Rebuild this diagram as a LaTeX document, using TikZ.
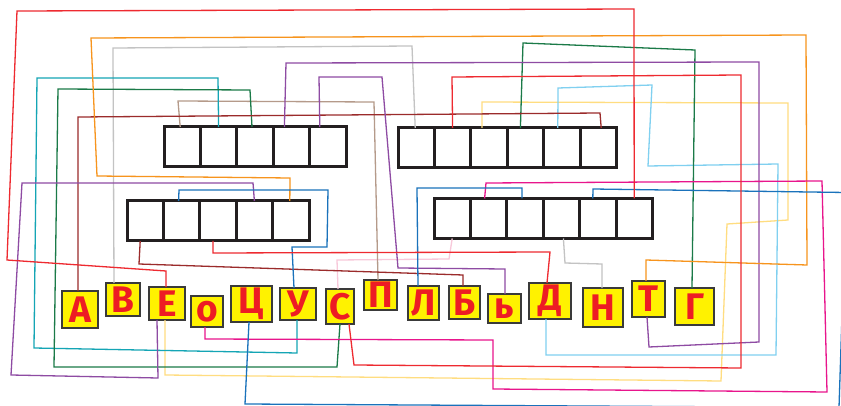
\documentclass[tikz,border=0pt]{standalone}
\usepackage{fontspec}
\newfontfamily\tilefont{Fira Sans}
\definecolor{cred}{HTML}{EE2A30}
\definecolor{corange}{HTML}{F7941D}
\definecolor{cgray}{HTML}{C3C3C3}
\definecolor{cteal}{HTML}{14A5B5}
\definecolor{cgreen}{HTML}{1B7A48}
\definecolor{cmaroon}{HTML}{9B2B2B}
\definecolor{ctan}{HTML}{B59A8A}
\definecolor{cpurple}{HTML}{8E4BA3}
\definecolor{clblue}{HTML}{80D0F0}
\definecolor{cpyellow}{HTML}{FFDD80}
\definecolor{cmagenta}{HTML}{E8158C}
\definecolor{cblue}{HTML}{1A72BB}
\definecolor{cpink}{HTML}{F8C8DA}
\definecolor{tileyellow}{HTML}{FFF200}
\definecolor{tileborder}{HTML}{3A3A3A}
\definecolor{letterred}{HTML}{ED1C24}
\definecolor{gridc}{HTML}{231F20}
\tikzset{
  conn/.style={line width=1.3pt, line join=miter},
  cellbox/.style={draw=gridc, line width=3pt, minimum width=36.4pt, minimum height=40pt, inner sep=0pt, outer sep=0pt},
  tile/.style={draw=tileborder, line width=2pt, fill=tileyellow, inner sep=0pt, outer sep=0pt, text=letterred, font=\tilefont\bfseries\fontsize{37}{37}\selectfont},
}
\begin{document}
\begin{tikzpicture}[x=1pt,y=-1pt]
\useasboundingbox (0,0) rectangle (841,406);
\fill[white] (0,0) rectangle (841,406);
\clip (0,0) rectangle (841,406);
% grids
\foreach \i/\x in {1/182.2,2/218.6,3/255.0,4/291.4,5/327.8} {\node[cellbox] (g1c\i) at (\x,147) {};}
\foreach \i/\x in {1/416.2,2/452.6,3/489.0,4/525.4,5/561.8,6/598.2} {\node[cellbox] (g2c\i) at (\x,148) {};}
\foreach \i/\x in {1/145.2,2/181.6,3/218.0,4/254.4,5/290.8} {\node[cellbox] (g3c\i) at (\x,221) {};}
\foreach \i/\x in {1/452.2,2/488.6,3/525.0,4/561.4,5/597.8,6/634.2} {\node[cellbox] (g4c\i) at (\x,218.5) {};}
% tiles
\node[tile, minimum width=36pt, minimum height=37pt] (tA) at (80,309.5) {А};
\node[tile, minimum width=34pt, minimum height=33pt] (tB) at (123,299.5) {В};
\node[tile, minimum width=36pt, minimum height=33pt] (tE) at (167,303.5) {Е};
\node[tile, minimum width=32pt, minimum height=31pt] (tO) at (207,311.5) {о};
\node[tile, minimum width=41pt, minimum height=36pt] (tTs) at (251.5,304) {Ц};
\node[tile, minimum width=36pt, minimum height=32pt] (tU) at (298,304) {У};
\node[tile, minimum width=28pt, minimum height=35pt] (tS) at (340,306.5) {С};
\node[tile, minimum width=33pt, minimum height=30pt] (tP) at (380.5,295) {П};
\node[tile, minimum width=31pt, minimum height=34pt] (tL) at (423.5,303) {Л};
\node[tile, minimum width=31pt, minimum height=33pt] (tBe) at (464.5,302.5) {Б};
\node[tile, minimum width=33pt, minimum height=29pt] (tSoft) at (504.5,308.5) {ь};
\node[tile, minimum width=42pt, minimum height=36pt] (tD) at (550,301) {Д};
\node[tile, minimum width=40pt, minimum height=39pt] (tN) at (603,307.5) {Н};
\node[tile, minimum width=33pt, minimum height=36pt] (tT) at (648.5,299) {Т};
\node[tile, minimum width=39pt, minimum height=37pt] (tG) at (694.5,306.5) {Г};
% connectors
\draw[conn,cpink] (g4c1.south) -- (449,259) -- (337,260) -- ([xshift=-2pt]tS.north);
\draw[conn,cgray] ([xshift=2pt]g4c4.south) -- (565,263) -- (602,264) -- ([xshift=-1pt]tN.north);
\draw[conn,cgray] ([xshift=-9pt]tB.north) -- (113,48) -- (412,46) -- ([xshift=-1pt]g2c1.north);
\draw[conn,ctan] ([xshift=-2pt]g1c1.north) -- (178,101) -- (374,102) -- ([xshift=-2.5pt]tP.north);
\draw[conn,cpyellow] ([xshift=-7pt]g2c3.north) -- (482,102) -- (788,103) -- (788,220) -- (727,224) -- (721,381) -- (165,375) -- ([xshift=-2pt]tE.south);
\draw[conn,clblue] ([xshift=-4pt]g2c5.north) -- (558,88) -- (652,85) -- (648,166) -- (778,164) -- (776,355) -- (546,355) -- ([xshift=-4pt]tD.south);
\draw[conn,cteal] (g1c2.north) -- (218,78) -- (37,78) -- (34,348) -- (297,353) -- ([xshift=-1pt]tU.south);
\draw[conn,cgreen] ([xshift=-3pt]g1c3.north) -- (250,90) -- (58,89) -- (54,367) -- (337,367) -- (tS.south);
\draw[conn,cgreen] ([xshift=-5pt]g2c4.north) -- (523,43) -- (695,50) -- ([xshift=-2.5pt]tG.north);
\draw[conn,cmaroon] ([xshift=-2pt]tA.north) -- (78,117) -- (600,113) -- ([xshift=3pt]g2c6.north);
\draw[conn,cmaroon] ([xshift=-5pt]g3c1.south) -- (139,264) -- (463,275) -- ([xshift=-1.5pt]tBe.north);
\draw[conn,cpurple] ([xshift=-7pt]g1c4.north) -- (286,63) -- (759,62) -- (759,342) -- (649,347) -- ([xshift=-1.5pt]tT.south);
\draw[conn,cpurple] ([xshift=-8pt]g1c5.north) -- (319,77) -- (382,77) -- (398,268) -- (505,269) -- ([xshift=0.5pt]tSoft.north);
\draw[conn,cpurple] (g3c4.north) -- (253,183) -- (22,183) -- (11,375) -- (158,378) -- ([xshift=-10pt]tE.south);
\draw[conn,corange] ([xshift=-1pt]g3c5.north) -- (290,178) -- (97,176) -- (91,38) -- (806,35) -- (807,265) -- (646,260) -- ([xshift=-2.5pt]tT.north);
\draw[conn,cmagenta] ([xshift=-4pt]g4c2.north) -- (486,183) -- (822,181) -- (827,392) -- (493,389) -- (493,340) -- (205,339) -- ([xshift=-2pt]tO.south);
\draw[conn,cblue] ([xshift=-2.5pt]tTs.south) -- (245,404) -- (839,407.5) -- (846,192.5) -- (593,189) -- ([xshift=-5pt]g4c5.north);
\draw[conn,cblue] ([xshift=-3pt]g4c3.north) -- (522,188) -- (417,188) -- ([xshift=-5.5pt]tL.north);
\draw[conn,cblue] ([xshift=-3pt]g3c2.north) -- (179,190) -- (328,190) -- (327,247) -- (292,247) -- ([xshift=-4pt]tU.north);
\draw[conn,cred] ([xshift=-1pt]tE.north) -- (166,271) -- (7,260) -- (17,11) -- (634,9) -- (g4c6.north);
\draw[conn,cred] (g2c2.north) -- (452,77) -- (741,75) -- (741,368) -- (354,365) -- ([xshift=9pt]tS.south);
\draw[conn,cred] ([xshift=-5pt]g3c3.south) -- (213,253) -- (550,252) -- ([xshift=-3pt]tD.north);
\end{tikzpicture}
\end{document}
